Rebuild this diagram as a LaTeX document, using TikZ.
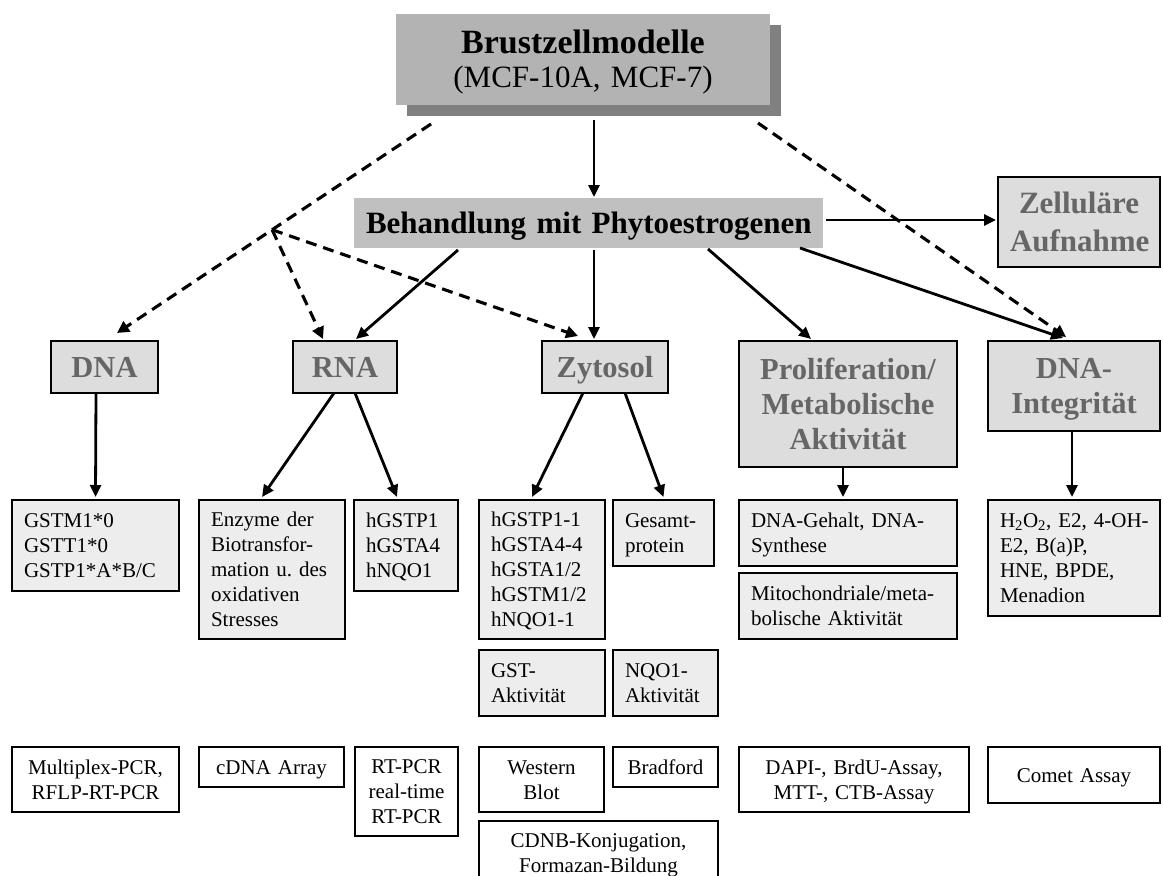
\documentclass[tikz,border=0pt]{standalone}
\usepackage{fontspec}
\setmainfont{Liberation Serif}
\usetikzlibrary{arrows.meta,calc,shadows}
\definecolor{brustfill}{HTML}{B3B3B3}
\definecolor{shadowgray}{HTML}{808080}
\definecolor{behfill}{HTML}{C0C0C0}
\definecolor{headfill}{HTML}{DDDDDD}
\definecolor{subfill}{HTML}{EDEDED}
\definecolor{headtext}{HTML}{666666}
\newcommand{\bx}[7]{%
  \pgfmathsetmacro{\bxw}{#5-#3}%
  \pgfmathsetmacro{\bxh}{#6-#4}%
  \pgfmathsetmacro{\bxt}{#5-#3-24}%
  \node[inner xsep=12pt, inner ysep=0pt, outer sep=0pt, #2, anchor=north west,
        minimum width=\bxw pt, minimum height=\bxh pt, text width=\bxt pt] (#1) at (#3,#4) {#7};}
\begin{document}
\begin{tikzpicture}[x=1pt,y=-1pt,
  head/.style={draw=black, line width=2pt, fill=headfill, text=headtext,
    font=\fontsize{30.5}{35}\selectfont\bfseries, align=center, inner xsep=4pt, text height=20pt},
  sub/.style={draw=black, line width=2.6pt, fill=subfill,
    font=\fontsize{21}{25}\selectfont, align=left, text height=14pt},
  meth/.style={draw=black, line width=1.4pt, fill=white,
    font=\fontsize{21}{25}\selectfont, align=center, text height=14pt},
  ln1/.style={text depth=0pt}, ln2/.style={text depth=25pt}, ln3/.style={text depth=50pt},
  ln4/.style={text depth=75pt}, ln5/.style={text depth=100pt},
  hl2/.style={text depth=35pt}, hl3/.style={text depth=70pt},
  arr/.style={line width=2.8pt, -{Triangle[length=12pt,width=11pt]}},
  darr/.style={line width=3.1pt, dash pattern=on 11pt off 7pt, -{Triangle[length=12pt,width=12pt]}}
]
\useasboundingbox (0,0) rectangle (1163,876);
\fill[white] (0,0) rectangle (1163,876);

% top nodes
\bx{brust}{fill=brustfill, align=center, font=\fontsize{31}{34}\selectfont,
  text height=22.5pt, text depth=34pt,
  drop shadow={shadow xshift=11pt, shadow yshift=-11pt, fill=shadowgray, opacity=1}}
  {396}{14}{770}{105}
  {{\fontsize{34}{34}\selectfont\bfseries Brustzellmodelle}\\(MCF-10A,~MCF-7)}
\bx{beh}{fill=behfill, align=center, inner xsep=2pt, font=\fontsize{31}{36}\selectfont\bfseries,
  text height=20.5pt, text depth=0pt}
  {354}{198}{823}{248}{\mbox{Behandlung mit Phytoestrogenen}}
\bx{zell}{head, font=\fontsize{31}{38}\selectfont\bfseries, text height=20.5pt, text depth=38pt}
  {998}{177}{1160}{267}{Zelluläre\\Aufnahme}

% header row
\bx{dna}{head, ln1}{51}{341}{158}{393}{DNA}
\bx{rna}{head, ln1}{293}{341}{397}{393}{RNA}
\bx{zyt}{head, ln1}{542}{341}{668}{393}{Zytosol}
\bx{prol}{head, hl3}{739}{341}{957}{467}{Proliferation/\\Metabolische\\Aktivität}
\bx{dint}{head, hl2}{988}{341}{1160}{431}{DNA-\\Integrität}

% second row
\bx{gstm}{sub, ln3}{12}{500}{179}{591}{GSTM1*0\\GSTT1*0\\GSTP1*A*B/C}
\bx{enz}{sub, ln5}{199}{500}{345}{639}{Enzyme~der\\Biotransfor-\\mation~u.~des\\oxidativen\\Stresses}
\bx{hg}{sub, ln3}{354}{500}{458}{591}{hGSTP1\\hGSTA4\\hNQO1}
\bx{hgg}{sub, ln5}{479}{500}{605}{639}{hGSTP1-1\\hGSTA4-4\\hGSTA1/2\\hGSTM1/2\\hNQO1-1}
\bx{ges}{sub, ln2}{613}{500}{714}{566}{Gesamt-\\protein}
\bx{dgeh}{sub, ln2}{739}{500}{957}{566}{\mbox{DNA-Gehalt, DNA-}\\Synthese}
\bx{mito}{sub, ln2}{739}{573}{957}{639}{\mbox{Mitochondriale/meta-}\\bolische~Aktivität}
\bx{hoo}{sub, ln4, inner xsep=10pt}{988}{500}{1160}{616}{\mbox{H\textsubscript{2}O\textsubscript{2}, E2, 4-OH-}\\E2,~B(a)P,\\HNE,~BPDE,\\Menadion}
\bx{gsta}{sub, ln2}{479}{650}{605}{716}{GST-\\Aktivität}
\bx{nqoa}{sub, ln2}{613}{650}{718}{716}{NQO1-\\Aktivität}

% methods row
\bx{mult}{meth, ln2}{12}{747}{179}{812}{Multiplex-PCR,\\RFLP-RT-PCR}
\bx{cdna}{meth, ln1}{199}{747}{344}{787}{cDNA~Array}
\bx{rtpcr}{meth, ln3}{355}{747}{458}{836}{RT-PCR\\real-time\\RT-PCR}
\bx{west}{meth, ln2}{479}{747}{604}{812}{Western\\Blot}
\bx{brad}{meth, ln1}{613}{747}{718}{787}{Bradford}
\bx{cdnb}{meth, text depth=24pt}{479}{821}{718}{883}{\mbox{CDNB-Konjugation,}\\\mbox{Formazan-Bildung}}
\bx{dapi}{meth, ln2}{739}{747}{969}{812}{\mbox{DAPI-, BrdU-Assay,}\\\mbox{MTT-, CTB-Assay}}
\bx{comet}{meth, ln1}{988}{747}{1160}{803}{Comet~Assay}

% connectors from top
\draw[arr] ($(brust.south)+(11,15)$) -- ($(beh.north)+(5.5,-1)$);
\coordinate (dls) at ($(brust.south west)+(35,19)$);
\coordinate (dle) at ($(dna.north)+(12.5,-8)$);
\coordinate (brn) at ($(dls)!0.506!(dle)$);
\draw[darr] (dls) -- (dle);
\draw[darr] (brn) -- ($(rna.north)+(-22,-2)$);
\draw[darr] (brn) -- ($(zyt.north)+(-27,-5)$);
\draw[darr] ($(brust.south east)+(-12,18)$) -- ($(dint.north)+(-8,-4)$);

% connectors from Behandlung
\draw[arr] ($(beh.south west)+(104,2)$) -- ($(rna.north)+(11,-2)$);
\draw[arr] ($(beh.south)+(5.5,2)$) -- ($(zyt.north)+(-11,-2)$);
\draw[arr] ($(beh.south)+(119.5,1)$) -- ($(prol.north)+(-37,-2)$);
\draw[arr] ($(beh.south east)+(-23,0)$) -- ($(dint.north)+(-11,-3)$);
\draw[arr] ($(beh.east)+(3,-3)$) -- ($(zell.west)+(-2,-2)$);

% lower connectors
\draw[arr] ($(dna.south)+(-8.5,0)$) -- ($(gstm.north)+(0,-3)$);
\draw[arr] ($(rna.south)+(-11,0)$) -- ($(enz.north)+(-10,-3)$);
\draw[arr] ($(rna.south)+(10,0)$) -- ($(hg.north)+(-9,-3)$);
\draw[arr] ($(zyt.south)+(-22,0)$) -- ($(hgg.north)+(-10,-3)$);
\draw[arr] ($(zyt.south)+(20,0)$) -- ($(ges.north)+(0,-3)$);
\draw[arr] ($(prol.south)+(-5,0)$) -- ($(dgeh.north)+(-5,-3)$);
\draw[arr] ($(dint.south)+(-2,0)$) -- ($(hoo.north)+(-2,-3)$);
\end{tikzpicture}
\end{document}
